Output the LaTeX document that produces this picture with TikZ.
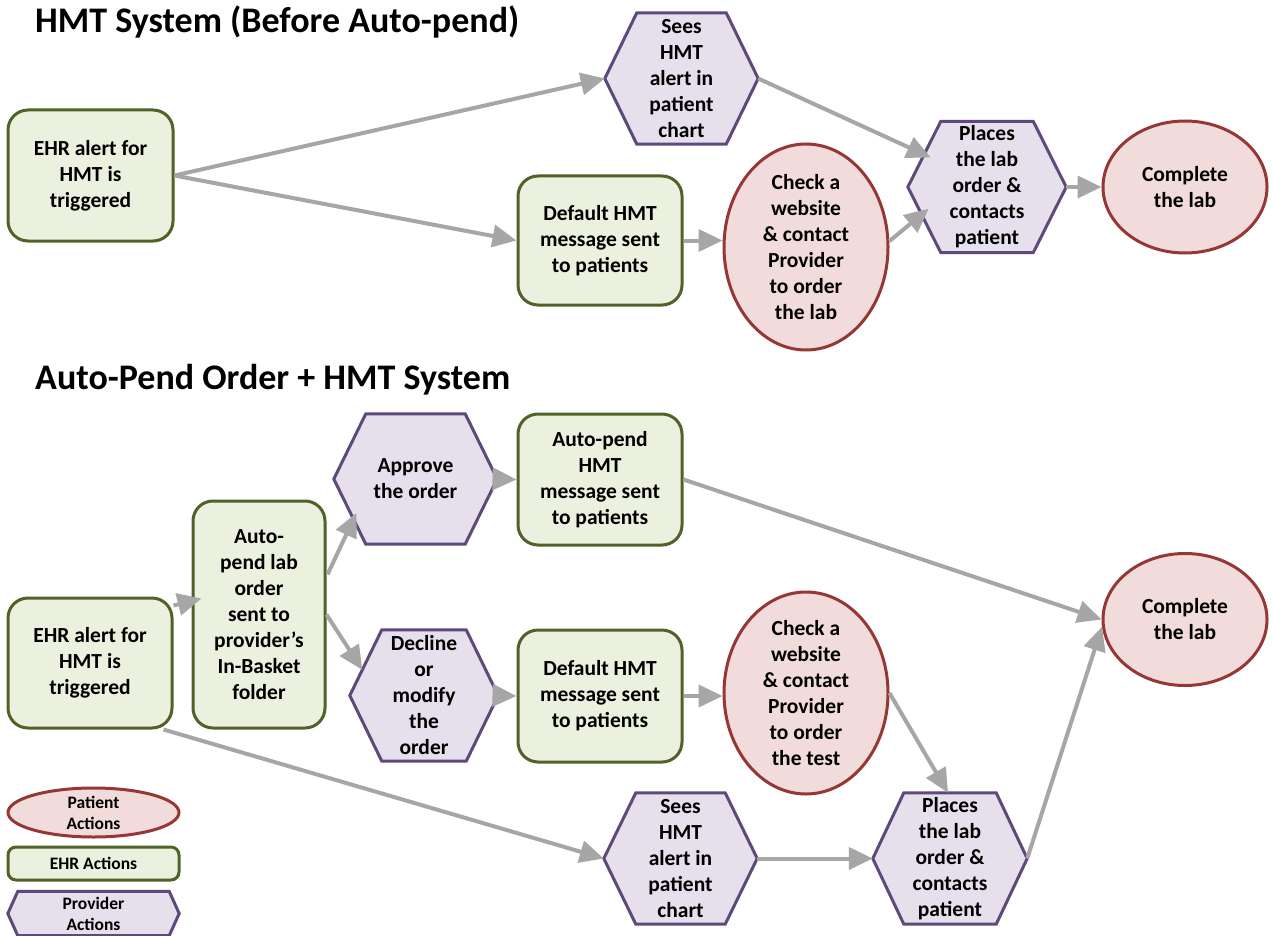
\documentclass[tikz,border=0pt]{standalone}
\usepackage{fontspec}
\setmainfont{Carlito}
\usetikzlibrary{arrows.meta,shapes.geometric,backgrounds,calc}
\definecolor{gfill}{HTML}{EBF1DE}
\definecolor{gline}{HTML}{4F6228}
\definecolor{pfill}{HTML}{E5E0EC}
\definecolor{pline}{HTML}{5F497A}
\definecolor{rfill}{HTML}{F2DCDB}
\definecolor{rline}{HTML}{953735}
\definecolor{arr}{HTML}{A6A6A6}
\tikzset{
 txt/.style={font=\bfseries\fontsize{21.5}{26}\selectfont, align=center, inner sep=0pt, text=black},
 ehrbox/.style={txt, rectangle, rounded corners=20pt, draw=gline, fill=gfill, line width=3pt},
 patell/.style={txt, ellipse, draw=rline, fill=rfill, line width=3pt, inner sep=-30pt},
 hextxt/.style={txt, rectangle},
 hexline/.style={draw=pline, fill=pfill, line width=3pt, line join=miter},
 flow/.style={draw=arr, line width=4pt, -{Triangle[length=24pt,width=22pt]}},
 ttl/.style={font=\bfseries\fontsize{36}{42}\selectfont, anchor=base west, inner sep=0pt},
 legtxt/.style={font=\bfseries\fontsize{17.5}{21}\selectfont},
}
% #1 extra style, #2 name, #3 centre, #4 width, #5 height, #6 point depth, #7 text
\newcommand\hexnode[7][]{%
 \node[hextxt, #1, minimum width=#4, minimum height=#5] (#2) at (#3) {#7};
 \begin{scope}[on background layer]
 \path[hexline] (#2.west) -- ([xshift=#6]#2.north west) coordinate (#2-tl)
   -- ([xshift=-#6]#2.north east) coordinate (#2-tr) -- (#2.east)
   -- ([xshift=-#6]#2.south east) coordinate (#2-br)
   -- ([xshift=#6]#2.south west) coordinate (#2-bl) -- cycle;
 \end{scope}}
\begin{document}
\begin{tikzpicture}[x=1pt,y=-1pt]
\useasboundingbox (0,0) rectangle (1273,936);
\begin{scope}[on background layer]
\fill[white] (0,0) rectangle (1273,936);
\end{scope}

% titles
\node[ttl] (t1) at (35,33) {HMT System (Before Auto-pend)};
\node[ttl] (t2) at (35,389) {Auto-Pend Order + HMT System};

% ---------- top diagram ----------
\node[ehrbox, minimum width=165pt, minimum height=131pt] (E1) at (90.5,175.5) {EHR alert for\\HMT is\\triggered};
\hexnode{S1}{681.5,78.5}{153pt}{131pt}{32pt}{Sees\\HMT\\alert in\\patient\\chart}
\node[ehrbox, minimum width=164pt, minimum height=129pt] (D1) at (600,240.5) {Default HMT\\message sent\\to patients};
\node[patell, minimum width=164pt, minimum height=206pt] (C1) at (806,247) {Check a\\website\\\& contact\\Provider\\to order\\the lab};
\hexnode{P1}{987,187}{158pt}{131pt}{33pt}{Places\\the lab\\order \&\\contacts\\patient}
\node[patell, minimum width=164pt, minimum height=132pt] (L1) at (1185,187) {Complete\\the lab};

% ---------- bottom diagram ----------
\node[ehrbox, minimum width=164pt, minimum height=130pt] (E2) at (90,663) {EHR alert for\\HMT is\\triggered};
\node[ehrbox, minimum width=132pt, minimum height=227pt] (AP) at (259,614.5) {Auto-\\pend lab\\order\\sent to\\provider’s\\In-Basket\\folder};
\hexnode{A}{415.5,479}{163pt}{130pt}{32pt}{Approve\\the order}
\node[ehrbox, minimum width=164pt, minimum height=131pt] (AH) at (600,479.5) {Auto-pend\\HMT\\message sent\\to patients};
\hexnode{DM}{424,695.5}{148pt}{131pt}{32pt}{Decline\\or\\modify\\the\\order}
\node[ehrbox, minimum width=164pt, minimum height=132pt] (D2) at (600,696) {Default HMT\\message sent\\to patients};
\node[patell, minimum width=164pt, minimum height=202pt] (C2) at (806,693) {Check a\\website\\\& contact\\Provider\\to order\\the test};
\node[patell, minimum width=164pt, minimum height=132pt] (L2) at (1185,619.5) {Complete\\the lab};
\hexnode{S2}{680.5,858.5}{153pt}{131pt}{32pt}{Sees\\HMT\\alert in\\patient\\chart}
\hexnode{P2}{950,858.5}{154pt}{131pt}{31pt}{Places\\the lab\\order \&\\contacts\\patient}

% ---------- legend ----------
\node[patell, legtxt, minimum width=171pt, minimum height=49pt] (lp) at (93.5,812.5) {Patient\\Actions};
\node[ehrbox, legtxt, rounded corners=8pt, minimum width=171pt, minimum height=33pt] (le) at (93.5,863.5) {EHR Actions};
\hexnode[legtxt]{lv}{93.5,913.5}{171pt}{44pt}{10pt}{Provider\\Actions}

% ---------- connectors (top) ----------
\draw[flow] (E1.east) -- (S1.west);
\draw[flow] (E1.east) -- (D1.west);
\draw[flow] (D1.east) -- (D1.east -| C1.west);
\draw[flow] (S1.east) -- ($(P1.west)!0.45!(P1-tl)+(8,0)$);
\draw[flow] (C1.4) -- ($(P1.west)!0.33!(P1-bl)+(10,0)$);
\draw[flow] (P1.east) -- (L1.west);

% ---------- connectors (bottom) ----------
\draw[flow] ($(E2.north east)+(0,9)$) -- ($(AP.west)+(10,-16)$);
\draw[flow] ($(AP.east)+(1,-40)$) -- ($(A.west)!0.52!(A-bl)+(6,0)$);
\draw[flow] (AP.east) -- ($(DM.west)!0.39!(DM-tl)$);
\draw[flow] (A.east) -- (AH.west);
\draw[flow] (DM.east) -- (D2.west);
\draw[flow] (AH.east) -- (L2.west);
\draw[flow] (D2.east) -- (D2.east -| C2.west);
\draw[flow] (C2.0) -- ([xshift=-2pt]P2.north);
\draw[flow] ($(E2.south east)+(-10,0)$) -- (S2.west);
\draw[flow] (S2.east) -- (P2.west);
\draw[flow] (P2.east) -- (L2.185);
\end{tikzpicture}
\end{document}
